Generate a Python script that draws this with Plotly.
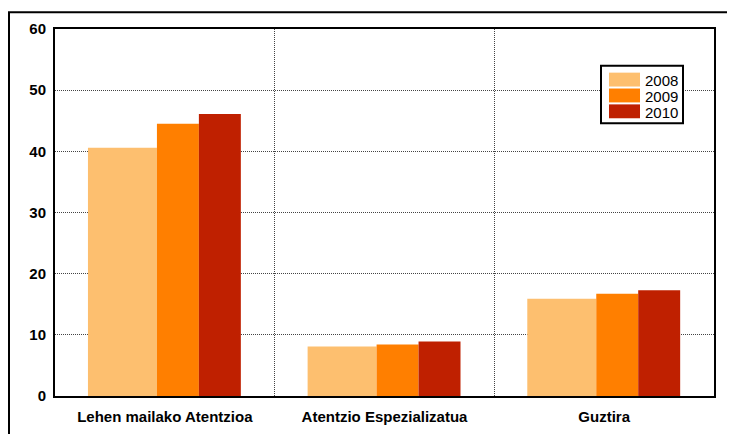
import plotly.graph_objects as go

categories = ["Lehen mailako Atentzioa", "Atentzio Espezializatua", "Guztira"]
years = ["2008", "2009", "2010"]
values_2008 = [40.6, 8.1, 15.9]
values_2009 = [44.5, 8.4, 16.7]
values_2010 = [46.1, 8.9, 17.3]
colors = ["#FDBF6F", "#FF7F00", "#BF2000"]

series = [values_2008, values_2009, values_2010]
# overlapping bars, like the original spreadsheet chart
offsets = [-0.35, -0.036, 0.155]
widths = [0.314, 0.191, 0.191]

W, H = 659, 370  # plot area size in px, used to place decorations


def px_x(p):
    return (p - 55) / W


def px_y(p):
    return (396 - p) / H


fig = go.Figure()
for year, vals, col, off, w in zip(years, series, colors, offsets, widths):
    fig.add_trace(go.Bar(x=categories, y=vals, name=year, marker_color=col,
                         marker_line_width=0, offset=off, width=w))

font_family = "Arial, Liberation Sans"
fig.update_layout(
    width=735, height=434,
    margin=dict(l=47, r=29, t=18, b=46),
    paper_bgcolor="white", plot_bgcolor="white",
    barmode="overlay",
    font=dict(family=font_family, color="black"),
    showlegend=False,
)
fig.update_xaxes(
    type="category", tickson="boundaries", ticks="",
    showgrid=True, gridcolor="#444", griddash="1px,1px", gridwidth=1,
    showline=True, linecolor="black", linewidth=2, mirror=True,
    tickfont=dict(size=15, family=font_family, weight="bold"),
    ticklabelstandoff=6,
)
fig.update_yaxes(
    range=[0, 60], dtick=10, ticks="",
    showgrid=True, gridcolor="#444", griddash="1px,1px", gridwidth=1,
    showline=True, linecolor="black", linewidth=2, mirror=True,
    zeroline=False,
    tickfont=dict(size=15, family=font_family, weight="bold"),
    ticklabelstandoff=4,
)

# outer frame of the chart object
fig.add_shape(type="rect", xref="paper", yref="paper",
              x0=px_x(9), x1=px_x(745), y0=px_y(445), y1=px_y(9),
              line=dict(color="black", width=2), layer="above")

# legend box drawn like the spreadsheet one
fig.add_shape(type="rect", xref="paper", yref="paper",
              x0=px_x(601), x1=px_x(683), y0=px_y(121), y1=px_y(63),
              line=dict(color="black", width=2), fillcolor="white", layer="above")
sw_top = [70, 86, 102]
for year, col, top in zip(years, colors, sw_top):
    fig.add_shape(type="rect", xref="paper", yref="paper",
                  x0=px_x(609), x1=px_x(640), y0=px_y(top + 14), y1=px_y(top),
                  line_width=0, fillcolor=col, layer="above")
    fig.add_annotation(x=px_x(643), y=px_y(top + 8), xref="paper", yref="paper",
                       text=year, showarrow=False, xanchor="left", yanchor="middle",
                       font=dict(size=15, family=font_family, color="black"))

fig.write_html("out.html")
